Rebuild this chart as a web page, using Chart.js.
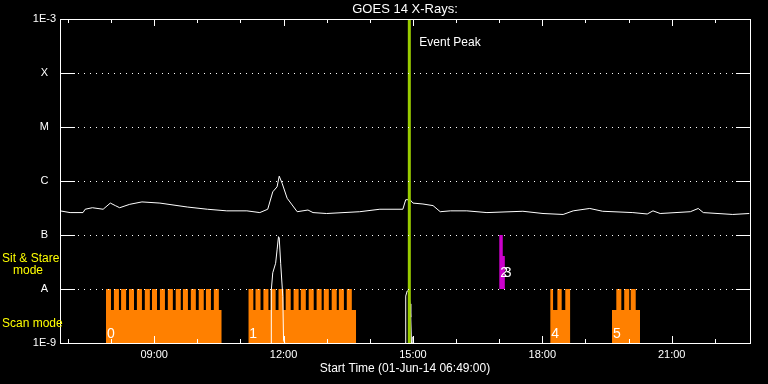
<!DOCTYPE html>
<html>
<head>
<meta charset="UTF-8">
<title>GOES 14 X-Rays</title>
<script src="https://cdn.jsdelivr.net/npm/chart.js"></script>
<style>
  body { margin: 0; background: #000; }
  canvas { display: block; background: #000; }
</style>
</head>
<body>
<canvas id="xrays" width="768" height="384"></canvas>
<script>
// GOES 14 flux (W/m^2)
const goesTimes = ['06:49','07:03','07:21','07:24','07:34','07:49','07:59','08:06','08:12','08:26','08:43','09:08','09:46','10:14','10:41','11:09','11:27','11:38','11:45','11:51','11:54','11:58','12:05','12:12','12:19','12:34','12:41','13:00','13:46','14:14','14:46','14:50','14:56','15:00','15:14','15:28','15:38','15:52','16:15','16:43','17:33','18:01','18:29','18:43','19:06','19:24','20:06','20:26','20:34','20:44','21:26','21:37','21:44','22:25','22:48'];
const goesFlux = [2.8e-7,2.6e-7,2.6e-7,3.0e-7,3.2e-7,3.0e-7,3.9e-7,3.5e-7,3.2e-7,3.7e-7,4.1e-7,3.9e-7,3.3e-7,3.0e-7,2.8e-7,2.8e-7,2.6e-7,3.0e-7,6.3e-7,7.8e-7,1.23e-6,9.1e-7,4.8e-7,3.6e-7,2.7e-7,2.9e-7,2.6e-7,2.5e-7,2.7e-7,3.0e-7,3.0e-7,4.5e-7,4.5e-7,3.9e-7,3.75e-7,3.5e-7,2.7e-7,2.8e-7,2.8e-7,2.6e-7,2.75e-7,2.5e-7,2.4e-7,2.8e-7,3.1e-7,2.75e-7,2.6e-7,2.45e-7,2.8e-7,2.5e-7,2.7e-7,3.1e-7,2.6e-7,2.4e-7,2.5e-7];

// the thin trace near the floor
const lowTimes = ['11:43','11:43','11:45','11:49','11:51','11:53','11:54','11:56','11:59','12:00','12:02','13:30','14:49','14:50','14:52','14:54','14:56','14:57','14:58','14:59','15:00','15:01'];
const lowFlux = [1e-9,9.6e-9,2.0e-8,3.0e-8,5.3e-8,9.3e-8,8.8e-8,3.0e-8,7.2e-9,1.1e-9,1e-9,null,1e-9,7.4e-9,9.2e-9,9.2e-9,5.3e-9,3.0e-9,1e-9,1e-9,1.3e-9,1e-9];

// scan mode blocks
const scanNames = ['0','1','4','5'];
const scanStart = ['07:53','11:11','18:11','19:37'];
const scanEnd = ['10:34','13:41','18:39','20:16'];
const scan0 = [['07:53','08:00'],['08:04','08:11'],['08:14','08:21'],['08:25','08:32'],['08:36','08:43'],['08:47','08:54'],['08:57','09:04'],['09:08','09:15'],['09:19','09:26'],['09:30','09:37'],['09:40','09:47'],['09:51','09:58'],['10:02','10:09'],['10:12','10:19'],['10:23','10:30']];
const scan1 = [['11:11','11:18'],['11:21','11:28'],['11:32','11:39'],['11:42','11:49'],['11:53','12:00'],['12:03','12:10'],['12:14','12:21'],['12:24','12:31'],['12:35','12:42'],['12:46','12:53'],['12:56','13:03'],['13:07','13:14'],['13:17','13:24'],['13:28','13:35']];
const scan4 = [['18:11','18:15'],['18:21','18:27'],['18:32','18:39']];
const scan5 = [['19:43','19:50'],['19:54','20:01'],['20:03','20:10']];
const scanSpikes = [scan0, scan1, scan4, scan5];
const scanTop = 1e-8;
const scanBase = 4.1e-9;

// sit & stare
const stareNames = ['2','3'];
const stareTimes = ['17:00','17:05','17:08'];
const stareLevels = [1e-7, 4.1e-8, 1e-8];

const eventPeak = '14:55';
const startTime = '06:49';
const endTime = '22:49';

const yTickValues = [1e-9,1e-8,1e-7,1e-6,1e-5,1e-4,1e-3];
const yTickNames = ['1E-9','A','B','C','M','X','1E-3'];
const xTickHours = [7,8,9,10,11,12,13,14,15,16,17,18,19,20,21,22];

const family = "'Liberation Sans', Arial, sans-serif";
Chart.defaults.font.family = family;

function hrs(s) {
    const p = s.split(':');
    return +p[0] + p[1] / 60;
}

function scanProfile(i) {
    const pts = [];
    let cursor = hrs(scanStart[i]);
    scanSpikes[i].forEach(([s, e]) => {
        if (hrs(s) > cursor) pts.push({x: cursor, y: scanBase});
        pts.push({x: hrs(s), y: scanTop});
        cursor = hrs(e);
    });
    pts.push({x: cursor, y: scanBase});
    pts.push({x: hrs(scanEnd[i]), y: 1e-9});
    return pts;
}

const datasets = [];
datasets.push({
    data: [{x: hrs(eventPeak), y: 1e-9}, {x: hrs(eventPeak), y: 1e-3}],
    borderColor: '#99cc00', borderWidth: 3, pointRadius: 0, order: 0
});
datasets.push({
    data: goesTimes.map((t, i) => ({x: hrs(t), y: goesFlux[i]})),
    borderColor: '#ffffff', borderWidth: 1, pointRadius: 0, tension: 0, order: 1
});
datasets.push({
    data: lowTimes.map((t, i) => ({x: hrs(t), y: lowFlux[i]})),
    borderColor: '#ffffff', borderWidth: 1, pointRadius: 0, tension: 0, order: 2
});
scanNames.forEach((n, i) => {
    datasets.push({
        data: scanProfile(i), stepped: true, fill: 'start',
        backgroundColor: '#ff8000', borderColor: 'rgba(0,0,0,0)', borderWidth: 0,
        pointRadius: 0, order: 5
    });
});
datasets.push({
    data: stareTimes.map((t, i) => ({x: hrs(t), y: stareLevels[i]})),
    stepped: true, fill: {value: 1e-8},
    backgroundColor: '#cc00cc', borderColor: 'rgba(0,0,0,0)', borderWidth: 0,
    pointRadius: 0, order: 5
});

const frame = {
    id: 'frame',
    afterDatasetsDraw(chart) {
        const {ctx, chartArea: a, scales: {x, y}} = chart;
        const L = Math.round(a.left), R = Math.round(a.right);
        const T = Math.round(a.top), B = Math.round(a.bottom);
        ctx.save();
        ctx.fillStyle = '#ffffff';

        // dotted level lines with solid stubs on both sides
        yTickValues.slice(1, -1).forEach(v => {
            const py = Math.round(y.getPixelForValue(v));
            for (let px = L + 18; px < R - 15; px += 6) ctx.fillRect(px, py, 1, 1);
            ctx.fillRect(L, py, 15, 1);
            ctx.fillRect(R - 14, py, 14, 1);
        });

        // inward hour ticks top and bottom
        xTickHours.forEach(h => {
            const px = Math.round(x.getPixelForValue(h));
            const len = h % 3 === 0 ? 7 : 4;
            ctx.fillRect(px, T, 1, len);
            ctx.fillRect(px, B - len, 1, len);
        });

        // box
        ctx.fillRect(L, T, R - L + 1, 1);
        ctx.fillRect(L, B, R - L + 1, 1);
        ctx.fillRect(L, T, 1, B - T + 1);
        ctx.fillRect(R, T, 1, B - T + 1);

        // block numbers
        ctx.font = '14px ' + family;
        ctx.textBaseline = 'alphabetic';
        scanNames.forEach((n, i) => {
            ctx.fillText(n, x.getPixelForValue(hrs(scanStart[i])) + 1, B - 5);
        });
        stareNames.forEach((n, i) => {
            ctx.fillText(n, x.getPixelForValue(hrs(stareTimes[i])) + 1, y.getPixelForValue(1e-8) - 12);
        });

        // event peak label
        ctx.font = '12px ' + family;
        ctx.textBaseline = 'middle';
        ctx.fillText('Event Peak', x.getPixelForValue(hrs(eventPeak)) + 10, T + 24);

        // mode labels
        const pB = y.getPixelForValue(1e-7);
        ctx.fillStyle = '#ffff00';
        ctx.fillText('Sit & Stare', 2, pB + 24);
        ctx.fillText('mode', 13, pB + 36);
        ctx.fillText('Scan mode', 2, B - 19);
        ctx.restore();
    }
};

new Chart(document.getElementById('xrays'), {
    type: 'line',
    data: {datasets: datasets},
    plugins: [frame],
    options: {
        responsive: false,
        animation: false,
        layout: {padding: {right: 18}},
        plugins: {
            legend: {display: false},
            tooltip: {enabled: false},
            title: {
                display: true, text: 'GOES 14 X-Rays:', color: '#ffffff', fullSize: false,
                font: {size: 13, weight: 'normal'}, padding: {top: 2, bottom: 1.4}
            }
        },
        scales: {
            x: {
                type: 'linear', min: hrs(startTime), max: hrs(endTime),
                afterBuildTicks: s => { s.ticks = xTickHours.map(v => ({value: v})); },
                afterFit: s => { s.height = 41; },
                grid: {display: false, drawTicks: false},
                border: {display: false},
                ticks: {
                    color: '#ffffff', font: {size: 11}, padding: 5, autoSkip: false, maxRotation: 0,
                    callback: v => v % 3 === 0 ? String(v).padStart(2, '0') + ':00' : ''
                },
                title: {
                    display: true, text: 'Start Time (01-Jun-14 06:49:00)', color: '#ffffff',
                    font: {size: 12}, padding: {top: 0, bottom: 8}
                }
            },
            y: {
                type: 'logarithmic', min: 1e-9, max: 1e-3,
                afterBuildTicks: s => { s.ticks = yTickValues.map(v => ({value: v})); },
                afterFit: s => { s.width = 60; },
                grid: {display: false, drawTicks: false},
                border: {display: false},
                ticks: {
                    color: '#ffffff', font: {size: 11}, padding: 4, crossAlign: 'center', autoSkip: false,
                    callback: (v, i) => yTickNames[i]
                }
            }
        }
    }
});
</script>
</body>
</html>
